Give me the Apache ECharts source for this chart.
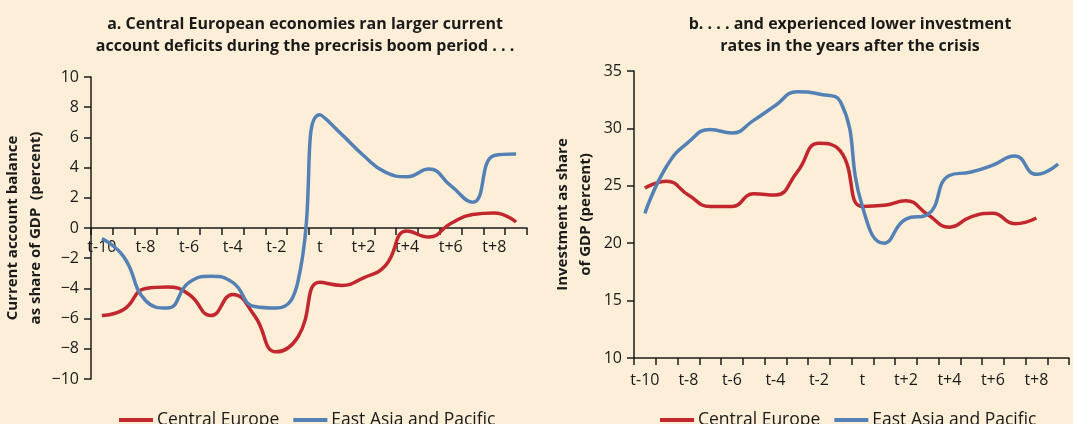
<!DOCTYPE html>
<html>
<head>
<meta charset="utf-8">
<script src="https://cdn.jsdelivr.net/npm/echarts@6/dist/echarts.min.js"></script>
<style>
  html, body { margin: 0; padding: 0; background: #fdefd7; }
  #chart { width: 1073px; height: 424px; }
</style>
</head>
<body>
<div id="chart"></div>
<script>
  // years around the crisis year t
  var periods = ['t-10', 't-9', 't-8', 't-7', 't-6', 't-5', 't-4', 't-3', 't-2', 't-1',
                 't', 't+1', 't+2', 't+3', 't+4', 't+5', 't+6', 't+7', 't+8', 't+9'];

  // panel a: current account balance, % of GDP
  var caCentralEurope = [-5.8, -5.4, -4.0, -3.9, -4.4, -5.8, -4.4, -5.8, -8.2, -7.2,
                         -3.6, -3.8, -3.3, -2.5, -0.2, -0.6, 0.3, 0.9, 1.0, 0.4];
  var caEastAsia = [-0.7, -1.9, -4.8, -5.3, -3.6, -3.2, -3.6, -5.2, -5.3, -3.5,
                    7.5, 6.2, 4.8, 3.7, 3.4, 3.9, 2.8, 1.7, 4.8, 4.9];

  // panel b: investment, % of GDP
  var invCentralEurope = [24.8, 25.4, 24.2, 23.2, 23.2, 24.3, 24.2, 26.2, 28.7, 28.0,
                          23.2, 23.3, 23.7, 22.5, 21.4, 22.3, 22.6, 21.7, 22.2];
  var invEastAsia = [22.6, 26.7, 28.8, 29.9, 29.6, 30.7, 32.0, 33.2, 33.0, 32.3,
                     23.2, 20.0, 22.1, 22.5, 25.9, 26.2, 26.8, 27.6, 26.0, 26.9];

  var RED = '#c1272d';
  var BLUE = '#5381b5';
  var INK = '#1a1a1a';
  var FONT = 'Open Sans';

  // offset < 0 pulls the bottom axis up into the plot (panel a sits on zero)
  function xAxisFor(idx, margin, offset) {
    return {
      type: 'category',
      gridIndex: idx,
      position: 'bottom',
      offset: offset,
      data: periods,
      boundaryGap: true,
      axisLine: { show: true, onZero: false, lineStyle: { color: INK, width: 1.5 } },
      axisTick: { show: true, interval: 0, length: 7, lineStyle: { color: INK, width: 1.5 } },
      axisLabel: { show: true, interval: 1, margin: margin, color: INK, fontFamily: FONT, fontSize: 16 },
      splitLine: { show: false }
    };
  }

  function yAxisFor(idx, min, max, step, name, gap) {
    return {
      type: 'value',
      gridIndex: idx,
      min: min, max: max, interval: step,
      name: name,
      nameLocation: 'middle',
      nameGap: gap,
      nameTextStyle: { color: INK, fontFamily: FONT, fontSize: 15, fontWeight: 'bold', lineHeight: 23 },
      axisLine: { show: true, onZero: false, lineStyle: { color: INK, width: 1.5 } },
      axisTick: { show: true, length: 7, lineStyle: { color: INK, width: 1.5 } },
      axisLabel: {
        margin: 12, color: INK, fontFamily: FONT, fontSize: 16,
        formatter: function (v) { return v < 0 ? '\u2212' + Math.abs(v) : String(v); }
      },
      splitLine: { show: false }
    };
  }

  function lineSeries(name, idx, data, color) {
    return {
      name: name,
      type: 'line',
      xAxisIndex: idx,
      yAxisIndex: idx,
      data: data,
      smooth: 0.5,
      showSymbol: false,
      lineStyle: { color: color, width: 3.5 },
      itemStyle: { color: color }
    };
  }

  function legendAt(left) {
    return {
      left: left,
      top: 406,
      icon: 'rect',
      itemWidth: 34,
      itemHeight: 4,
      itemGap: 14,
      textStyle: { color: INK, fontFamily: FONT, fontSize: 17.5, padding: [0, 0, 0, -1] },
      data: ['Central Europe', 'East Asia and Pacific']
    };
  }

  var titleStyle = { color: INK, fontFamily: FONT, fontSize: 16, fontWeight: 'bold', lineHeight: 22 };

  var option = {
    backgroundColor: '#fdefd7',
    animation: false,
    title: [
      { text: 'a. Central European economies ran larger current\naccount deficits during the precrisis boom period . . .',
        left: 300, top: 8, textAlign: 'center', textStyle: titleStyle },
      { text: 'b. . . . and experienced lower investment\nrates in the years after the crisis',
        left: 845, top: 8, textAlign: 'center', textStyle: titleStyle }
    ],
    legend: [legendAt(114), legendAt(655)],
    grid: [
      { left: 91, top: 77, width: 436, height: 302 },
      { left: 634, top: 71, width: 435, height: 287 }
    ],
    xAxis: [xAxisFor(0, 11, -151), xAxisFor(1, 14, 0)],
    yAxis: [
      yAxisFor(0, -10, 10, 2, 'Current account balance\nas share of GDP  (percent)', 38),
      yAxisFor(1, 10, 35, 5, 'Investment as share\nof GDP (percent)', 37)
    ],
    series: [
      lineSeries('Central Europe', 0, caCentralEurope, RED),
      lineSeries('East Asia and Pacific', 0, caEastAsia, BLUE),
      lineSeries('Central Europe', 1, invCentralEurope, RED),
      lineSeries('East Asia and Pacific', 1, invEastAsia, BLUE)
    ]
  };

  var myChart = echarts.init(document.getElementById('chart'));
  myChart.setOption(option);
</script>
</body>
</html>
